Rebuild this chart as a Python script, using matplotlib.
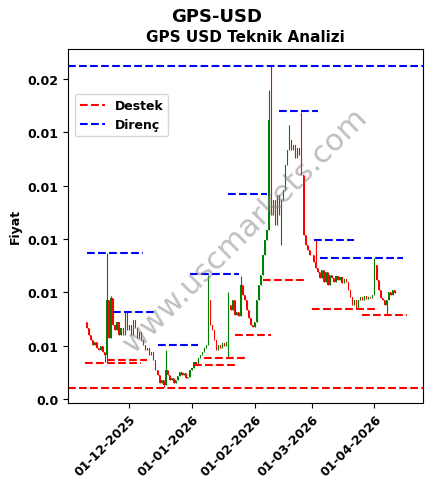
import matplotlib
matplotlib.use("Agg")
import matplotlib.pyplot as plt
import matplotlib.dates as mdates
from matplotlib.ticker import MultipleLocator, FuncFormatter
import pandas as pd

plt.rcParams['font.weight'] = 'bold'
plt.rcParams['axes.titleweight'] = 'bold'
plt.rcParams['axes.labelweight'] = 'bold'

# daily closes, 10-11-2025 .. 11-04-2026
first_open = 0.00689
closes = [
    0.00666, 0.00640, 0.00621, 0.00603, 0.00614, 0.00591, 0.00584, 0.00599, 0.00576, 0.00565,
    0.00771, 0.00629, 0.00779, 0.00678, 0.00659, 0.00689, 0.00640, 0.00666, 0.00640, 0.00722,
    0.00659, 0.00678, 0.00640, 0.00696, 0.00666, 0.00629, 0.00651, 0.00621, 0.00603, 0.00584,
    0.00591, 0.00565, 0.00576, 0.00546, 0.00509, 0.00490, 0.00460, 0.00471, 0.00453, 0.00509,
    0.00490, 0.00471, 0.00479, 0.00460, 0.00471, 0.00486, 0.00501, 0.00490, 0.00498, 0.00479,
    0.00483, 0.00509, 0.00516, 0.00539, 0.00528, 0.00554, 0.00565, 0.00576, 0.00591, 0.00603,
    0.00771, 0.00678, 0.00659, 0.00621, 0.00584, 0.00603, 0.00591, 0.00610, 0.00599, 0.00614,
    0.00753, 0.00734, 0.00771, 0.00715, 0.00726, 0.00711, 0.00828, 0.00790, 0.00771, 0.00734,
    0.00704, 0.00678, 0.00670, 0.00689, 0.00771, 0.00828, 0.00865, 0.00940, 0.00996, 0.01034,
    0.01446, 0.01090, 0.01146, 0.01053, 0.01165, 0.01090, 0.01146, 0.01184, 0.01278, 0.01334,
    0.01371, 0.01334, 0.01353, 0.01304, 0.01341, 0.01315, 0.01240, 0.01015, 0.00978, 0.00959,
    0.00940, 0.00940, 0.00914, 0.00891, 0.00876, 0.00854, 0.00884, 0.00839, 0.00876, 0.00828,
    0.00865, 0.00854, 0.00839, 0.00861, 0.00846, 0.00858, 0.00835, 0.00850, 0.00839, 0.00809,
    0.00783, 0.00753, 0.00771, 0.00741, 0.00771, 0.00783, 0.00771, 0.00786, 0.00775, 0.00783,
    0.00779, 0.00790, 0.00903, 0.00846, 0.00809, 0.00779, 0.00771, 0.00753, 0.00771, 0.00801,
    0.00790, 0.00809, 0.00798,
]
dates = pd.date_range("2025-11-10", periods=len(closes), freq="D")

# wick extremes that stick out of the bodies
high_wicks = {
    "2025-11-20": 0.00948, "2025-11-22": 0.00786, "2025-11-29": 0.00726,
    "2025-12-19": 0.00584, "2026-01-09": 0.00865, "2026-01-19": 0.00801,
    "2026-01-25": 0.00861, "2026-02-08": 0.01559, "2026-02-09": 0.01653,
    "2026-02-18": 0.01428, "2026-02-24": 0.01476, "2026-03-03": 0.00996,
    "2026-04-01": 0.00929,
}
low_wicks = {
    "2025-11-19": 0.00539, "2025-11-20": 0.00539, "2025-12-18": 0.00445,
    "2026-01-19": 0.00554, "2026-02-14": 0.00978, "2026-04-07": 0.00715,
}

# support (Destek) and resistance (Direnç) segments: start, end, level
destek = [
    ("2025-11-09", "2025-12-07", 0.00534),
    ("2025-11-20", "2025-12-10", 0.00546),
    ("2026-01-02", "2026-01-22", 0.00528),
    ("2026-01-07", "2026-01-28", 0.00553),
    ("2026-01-22", "2026-02-09", 0.00640),
    ("2026-02-05", "2026-02-25", 0.00845),
    ("2026-03-01", "2026-04-02", 0.00738),
    ("2026-03-26", "2026-04-17", 0.00715),
]
direnc = [
    ("2025-11-10", "2025-12-08", 0.00949),
    ("2025-11-23", "2025-12-14", 0.00727),
    ("2025-12-15", "2026-01-04", 0.00603),
    ("2025-12-31", "2026-01-24", 0.00870),
    ("2026-01-19", "2026-02-07", 0.01169),
    ("2026-02-13", "2026-03-04", 0.01480),
    ("2026-03-02", "2026-03-22", 0.00996),
    ("2026-03-05", "2026-04-15", 0.00928),
]
destek_main = 0.00442
direnc_main = 0.01649

fig = plt.figure(figsize=(4.33, 4.89), dpi=100)
ax = fig.add_axes([0.158, 0.174, 0.819, 0.724])

opens = [first_open] + closes[:-1]
for d, o, c in zip(dates, opens, closes):
    key = d.strftime("%Y-%m-%d")
    hi = max(o, c, high_wicks.get(key, 0))
    lo = min(o, c, low_wicks.get(key, 1))
    col = "green" if c >= o else "red"
    x = mdates.date2num(d)
    ax.vlines(x, lo, hi, color=col, linewidth=0.8)
    ax.bar(x, abs(c - o), bottom=min(o, c), width=0.55, color=col, linewidth=0)

for s, e, v in destek:
    ax.plot([pd.Timestamp(s), pd.Timestamp(e)], [v, v], "--", color="red", linewidth=1.5)
for s, e, v in direnc:
    ax.plot([pd.Timestamp(s), pd.Timestamp(e)], [v, v], "--", color="blue", linewidth=1.5)
ax.axhline(destek_main, linestyle="--", color="red", linewidth=1.5, label="Destek")
ax.axhline(direnc_main, linestyle="--", color="blue", linewidth=1.5, label="Direnç")

ax.text(0.5, 0.49, "www.uscmarkets.com", transform=ax.transAxes, rotation=45,
        fontsize=22, color="gray", alpha=0.5, ha="center", va="center",
        fontweight="normal")

ax.yaxis.set_major_locator(MultipleLocator(0.002))
ax.yaxis.set_major_formatter(FuncFormatter(lambda v, p: str(round(v, 2))))
ax.xaxis.set_major_locator(mdates.MonthLocator())
ax.xaxis.set_major_formatter(mdates.DateFormatter("%d-%m-%Y"))
plt.setp(ax.get_xticklabels(), rotation=45, ha="right", rotation_mode="anchor", fontsize=9)
plt.setp(ax.get_yticklabels(), fontsize=9)

ax.set_ylabel("Fiyat", fontsize=9)
ax.set_title("GPS USD Teknik Analizi", fontsize=11)
fig.suptitle("GPS-USD", fontsize=13, fontweight="bold", y=0.983)
ax.legend(loc="upper left", bbox_to_anchor=(0.0, 0.89), fontsize=9)

fig.savefig("out.png", dpi=100)
